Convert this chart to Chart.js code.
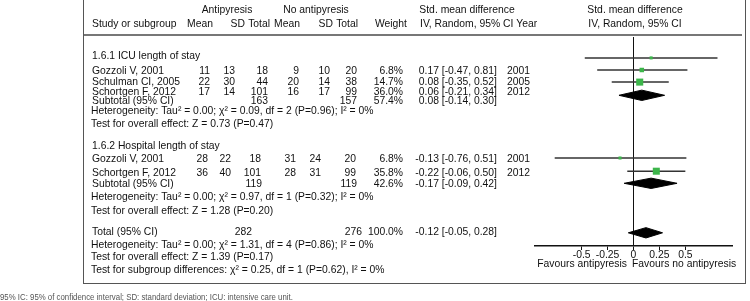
<!DOCTYPE html>
<html>
<head>
<meta charset="utf-8">
<script src="https://cdn.jsdelivr.net/npm/chart.js@4/dist/chart.umd.min.js"></script>
<style>
    html, body { margin: 0; padding: 0; background: #fff; }
    #wrap { width: 750px; height: 301px; position: relative; }
</style>
</head>
<body>
<div id="wrap"><canvas id="forestChart"></canvas></div>
<script>
// study level data
const studies = ['Gozzoli V, 2001', 'Schulman CI, 2005', 'Schortgen F, 2012', 'Gozzoli V, 2001', 'Schortgen F, 2012'];
const studyGroup = [0, 0, 0, 1, 1];
const years = ['2001', '2005', '2012', '2001', '2012'];
const meanA = [11, 22, 17, 28, 36];
const sdA = [13, 30, 14, 22, 40];
const totalA = [18, 44, 101, 18, 101];
const meanB = [9, 20, 16, 31, 28];
const sdB = [10, 14, 17, 24, 31];
const totalB = [20, 38, 99, 20, 99];
const weights = [6.8, 14.7, 36.0, 6.8, 35.8];
const smd = [0.17, 0.08, 0.06, -0.13, 0.22];
const ciLow = [-0.47, -0.35, -0.21, -0.76, -0.06];
const ciHigh = [0.81, 0.52, 0.34, 0.51, 0.50];
const ciText = ['0.17 [-0.47, 0.81]', '0.08 [-0.35, 0.52]', '0.06 [-0.21, 0.34]', '-0.13 [-0.76, 0.51]', '-0.22 [-0.06, 0.50]'];
const studyRow = [1.9, 3, 4.1, 11, 12.2];

// subtotals and total
const summaryLabels = ['Subtotal (95% CI)', 'Subtotal (95% CI)', 'Total (95% CI)'];
const summaryTotalA = [163, 119, 282];
const summaryTotalB = [157, 119, 276];
const summaryWeight = ['57.4%', '42.6%', '100.0%'];
const summarySmd = [0.08, 0.17, 0.12];
const summaryLow = [-0.14, -0.09, -0.05];
const summaryHigh = [0.30, 0.42, 0.28];
const summaryText = ['0.08 [-0.14, 0.30]', '-0.17 [-0.09, 0.42]', '-0.12 [-0.05, 0.28]'];
const summaryRow = [5.3, 13.3, 17.8];

const sectionTitles = ['1.6.1 ICU length of stay', '1.6.2 Hospital length of stay'];
const notes = [
    'Heterogeneity: Tau\u00B2 = 0.00; \u03C7\u00B2 = 0.09, df = 2 (P=0.96); I\u00B2 = 0%',
    'Test for overall effect: Z = 0.73 (P=0.47)',
    'Heterogeneity: Tau\u00B2 = 0.00; \u03C7\u00B2 = 0.97, df = 1 (P=0.32); I\u00B2 = 0%',
    'Test for overall effect: Z = 1.28 (P=0.20)',
    'Heterogeneity: Tau\u00B2 = 0.00; \u03C7\u00B2 = 1.31, df = 4 (P=0.86); I\u00B2 = 0%',
    'Test for overall effect: Z = 1.39 (P=0.17)',
    'Test for subgroup differences: \u03C7\u00B2 = 0.25, df = 1 (P=0.62), I\u00B2 = 0%'
];
const xTicks = [-0.5, -0.25, 0, 0.25, 0.5];
const footnote = '95% IC: 95% of confidence interval; SD: standard deviation; ICU: intensive care unit.';

const FAMILY = '"Liberation Sans", Arial, sans-serif';
const FONT = '11.5px ' + FAMILY;
const SQUEEZE = 0.9;  // the original uses a condensed face
const INK = '#111';

// layout of the table text (pixels); the two subgroups sit on slightly different columns
const cols = [
    { meanA: 210, sdA: 235, totA: 268, meanB: 299, sdB: 330, totB: 357 },
    { meanA: 208, sdA: 231, totA: 261, meanB: 296, sdB: 321, totB: 356 }
];
const nameX = 92, weightX = 403, ciX = 497, yearX = 507;
const summaryTotAX = [268, 262, 252];
const summaryTotBX = [357, 357, 362];
const studyTextY = [71, 82, 92, 159, 173];
const summaryTextY = [101, 184, 232];
const sectionY = [55.5, 146];
const notesY = [110.5, 124, 197, 211, 245, 257, 270];

const tablePlugin = {
    id: 'forestTable',
    afterDraw(chart) {
        const c = chart.ctx;
        c.save();
        // frame and header rule
        c.strokeStyle = '#555';
        c.lineWidth = 1;
        c.strokeRect(83.5, -1, 662, 284.5);
        c.strokeStyle = '#777';
        c.lineWidth = 2;
        c.beginPath();
        c.moveTo(84, 35);
        c.lineTo(742, 35);
        c.stroke();

        c.fillStyle = INK;
        c.font = FONT;
        c.textBaseline = 'middle';
        let sq = SQUEEZE;
        const put = (txt, x, y, align) => {
            c.save();
            c.translate(x, y);
            c.scale(sq, 1);
            c.textAlign = align || 'left';
            c.fillText(String(txt), 0, 0);
            c.restore();
        };

        put('Antipyresis', 227, 10, 'center');
        put('No antipyresis', 316, 10, 'center');
        put('Std. mean difference', 467, 10, 'center');
        put('Std. mean difference', 635, 10, 'center');
        put('Study or subgroup', nameX, 24);
        put('Mean', 213, 24, 'right');
        put('SD', 245, 24, 'right');
        put('Total', 270, 24, 'right');
        put('Mean', 300, 24, 'right');
        put('SD', 333, 24, 'right');
        put('Total', 358, 24, 'right');
        put('Weight', 407, 24, 'right');
        put('IV, Random, 95% CI Year', 420, 24);
        put('IV, Random, 95% CI', 635, 24, 'center');

        sectionTitles.forEach((t, i) => put(t, nameX, sectionY[i]));

        studies.forEach((s, i) => {
            const y = studyTextY[i];
            const k = cols[studyGroup[i]];
            put(s, nameX, y);
            put(meanA[i], k.meanA, y, 'right');
            put(sdA[i], k.sdA, y, 'right');
            put(totalA[i], k.totA, y, 'right');
            put(meanB[i], k.meanB, y, 'right');
            put(sdB[i], k.sdB, y, 'right');
            put(totalB[i], k.totB, y, 'right');
            put(weights[i].toFixed(1) + '%', weightX, y, 'right');
            put(ciText[i], ciX, y, 'right');
            put(years[i], yearX, y);
        });

        summaryLabels.forEach((s, i) => {
            const y = summaryTextY[i];
            put(s, nameX, y);
            put(summaryTotalA[i], summaryTotAX[i], y, 'right');
            put(summaryTotalB[i], summaryTotBX[i], y, 'right');
            put(summaryWeight[i], weightX, y, 'right');
            put(summaryText[i], ciX, y, 'right');
        });

        notes.forEach((t, i) => put(t, 91, notesY[i]));

        // x tick labels, placed through the x scale
        const xs = chart.scales.x;
        xs.ticks.forEach(t => put(String(t.value), xs.getPixelForValue(t.value), 254.5, 'center'));

        put('Favours antipyresis', 627, 264, 'right');
        put('Favours no antipyresis', 632, 264);

        c.font = '9px ' + FAMILY;
        c.fillStyle = '#555';
        sq = 0.87;
        put(footnote, 0, 298);
        c.restore();
    }
};

const halfH = 0.47;
const datasets = [];

// weighted squares
datasets.push({
    data: smd.map((v, i) => ({ x: v, y: studyRow[i] })),
    pointStyle: 'rect',
    pointRadius: weights.map(w => Math.sqrt(w) * 0.83),
    backgroundColor: '#3cb54a',
    borderWidth: 0,
    showLine: false
});

// confidence interval lines
smd.forEach((v, i) => {
    datasets.push({
        data: [{ x: ciLow[i], y: studyRow[i] }, { x: ciHigh[i], y: studyRow[i] }],
        showLine: true,
        borderColor: '#333',
        borderWidth: 1.5,
        pointRadius: 0
    });
});

// diamonds
summarySmd.forEach((v, i) => {
    const r = summaryRow[i];
    datasets.push({
        data: [
            { x: summaryLow[i], y: r },
            { x: v, y: r - halfH },
            { x: summaryHigh[i], y: r },
            { x: v, y: r + halfH },
            { x: summaryLow[i], y: r }
        ],
        showLine: true,
        fill: 'shape',
        backgroundColor: '#000',
        borderColor: '#000',
        borderWidth: 1,
        pointRadius: 0
    });
});

const ctx = document.getElementById('forestChart').getContext('2d');
new Chart(ctx, {
    type: 'scatter',
    data: { datasets: datasets },
    options: {
        responsive: true,
        maintainAspectRatio: false,
        animation: false,
        layout: { padding: { left: 535, right: 18, top: 37, bottom: 35 } },
        scales: {
            x: {
                type: 'linear',
                min: -0.95,
                max: 0.95,
                afterBuildTicks: scale => { scale.ticks = xTicks.map(v => ({ value: v })); },
                afterFit: scale => { scale.height = 20; },
                grid: {
                    color: c => (c.tick && c.tick.value === 0 ? '#111' : 'rgba(0,0,0,0)'),
                    tickColor: '#111',
                    tickLength: 4,
                    lineWidth: 1
                },
                border: { color: '#111', width: 1.5 },
                ticks: { display: false }
            },
            y: {
                type: 'linear',
                reverse: true,
                min: 0,
                max: 19,
                display: false
            }
        },
        plugins: {
            legend: { display: false },
            tooltip: { enabled: false }
        }
    },
    plugins: [tablePlugin]
});
</script>
</body>
</html>
